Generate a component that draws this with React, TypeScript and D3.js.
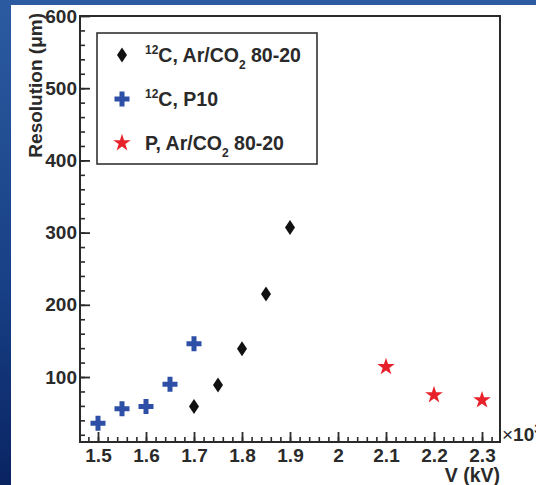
import React, { useEffect, useRef } from 'react';
import * as d3 from 'd3';

// 12C, Ar/CO2 80-20
const voltArCO2 = [1.7, 1.75, 1.8, 1.85, 1.9];
const resArCO2 = [59, 89, 139, 215, 307];
// 12C, P10
const voltP10 = [1.5, 1.55, 1.6, 1.65, 1.7];
const resP10 = [36, 56, 59, 90, 146];
// P, Ar/CO2 80-20
const voltProton = [2.1, 2.2, 2.3];
const resProton = [114, 75, 68];

const xMajorTicks = [1.5, 1.6, 1.7, 1.8, 1.9, 2.0, 2.1, 2.2, 2.3];
const yMajorTicks = [100, 200, 300, 400, 500, 600];

const W = 536;
const H = 485;
const FONT = '"Liberation Sans", Arial, Helvetica, sans-serif';

const App = () => {
  const svgRef = useRef<SVGSVGElement>(null);

  useEffect(() => {
    const svg = d3.select(svgRef.current);
    svg.selectAll('*').remove();

    const left = 80, right = 500, top = 16, bottom = 442;

    const x = d3.scaleLinear().domain([1.4625, 2.3375]).range([left, right]);
    const y = d3.scaleLinear().domain([10, 600]).range([bottom, top]);

    // slide background
    const defs = svg.append('defs');
    const grad = defs.append('linearGradient')
      .attr('id', 'bg').attr('x1', 0).attr('y1', 0).attr('x2', 0).attr('y2', 1);
    grad.append('stop').attr('offset', '0%').attr('stop-color', '#2c5ba1');
    grad.append('stop').attr('offset', '60%').attr('stop-color', '#173f85');
    grad.append('stop').attr('offset', '100%').attr('stop-color', '#0a2462');
    svg.append('rect').attr('width', W).attr('height', H).attr('fill', 'url(#bg)');
    svg.append('rect').attr('x', 11).attr('y', 5).attr('width', W - 11).attr('height', H - 5).attr('fill', '#fff');

    const ink = '#2a2a2a';

    // x axis: minor + major ticks pointing inward
    const xMinor = d3.range(1.48, 2.34, 0.02).map(v => +v.toFixed(2));
    svg.append('g')
      .attr('transform', `translate(0,${bottom})`)
      .call(d3.axisBottom(x).tickValues(xMinor).tickSize(-5).tickFormat(() => ''))
      .call(g => g.select('.domain').remove())
      .selectAll('line').attr('stroke', ink).attr('stroke-width', 1.6);

    const gx = svg.append('g')
      .attr('transform', `translate(0,${bottom})`)
      .call(d3.axisBottom(x).tickValues(xMajorTicks).tickSize(-10).tickPadding(7)
        .tickFormat(d => String(+(+d).toFixed(1))));
    gx.select('.domain').remove();
    gx.selectAll('line').attr('stroke', ink).attr('stroke-width', 1.8);
    gx.selectAll('text')
      .attr('font-family', FONT).attr('font-weight', 'bold').attr('font-size', 19)
      .attr('fill', ink).attr('dy', '0.71em');

    // y axis
    const yMinor = d3.range(20, 600, 20);
    svg.append('g')
      .attr('transform', `translate(${left},0)`)
      .call(d3.axisLeft(y).tickValues(yMinor).tickSize(-5).tickFormat(() => ''))
      .call(g => g.select('.domain').remove())
      .selectAll('line').attr('stroke', ink).attr('stroke-width', 1.6);

    const gy = svg.append('g')
      .attr('transform', `translate(${left},0)`)
      .call(d3.axisLeft(y).tickValues(yMajorTicks).tickSize(-10).tickPadding(3));
    gy.select('.domain').remove();
    gy.selectAll('line').attr('stroke', ink).attr('stroke-width', 1.8);
    gy.selectAll('text')
      .attr('font-family', FONT).attr('font-weight', 'bold').attr('font-size', 19)
      .attr('fill', ink);

    // frame
    svg.append('rect')
      .attr('x', left).attr('y', top)
      .attr('width', right - left).attr('height', bottom - top)
      .attr('fill', 'none').attr('stroke', ink).attr('stroke-width', 2);

    // axis titles
    svg.append('text')
      .attr('transform', `translate(42,${top - 3}) rotate(-90)`)
      .attr('text-anchor', 'end')
      .attr('font-family', FONT).attr('font-weight', 'bold').attr('font-size', 19)
      .attr('fill', ink)
      .text('Resolution (\u03bcm)');

    svg.append('text')
      .attr('x', right).attr('y', 482)
      .attr('text-anchor', 'end')
      .attr('font-family', FONT).attr('font-weight', 'bold').attr('font-size', 19.5)
      .attr('fill', ink)
      .text('V (kV)');

    const exp = svg.append('text')
      .attr('x', right + 2).attr('y', bottom - 1)
      .attr('font-family', FONT).attr('font-size', 19)
      .attr('fill', ink);
    exp.append('tspan').text('\u00d7');
    exp.append('tspan').attr('font-weight', 'bold').text('10');
    exp.append('tspan').attr('font-weight', 'bold').attr('font-size', 12).attr('dy', -8).text('3');

    // markers
    const diamondPath = 'M0,-7.5L5,0L0,7.5L-5,0Z';
    const crossPath = d3.symbol().type(d3.symbolCross).size(125)();
    const starPath = d3.symbol().type(d3.symbolStar).size(95)();
    const black = '#111111', blue = '#2e4fa6', red = '#e8222b';

    const series = [
      { xs: voltArCO2, ys: resArCO2, path: diamondPath, color: black },
      { xs: voltP10, ys: resP10, path: crossPath, color: blue },
      { xs: voltProton, ys: resProton, path: starPath, color: red },
    ];

    series.forEach(s => {
      svg.append('g').selectAll('path')
        .data(s.xs.map((v, i) => [v, s.ys[i]]))
        .enter().append('path')
        .attr('d', s.path)
        .attr('transform', d => `translate(${x(d[0])},${y(d[1])})`)
        .attr('fill', s.color);
    });

    // legend
    const lg = svg.append('g');
    lg.append('rect')
      .attr('x', 97).attr('y', 33).attr('width', 220).attr('height', 131)
      .attr('fill', '#fff').attr('stroke', '#333').attr('stroke-width', 1.6);

    const items = [
      { path: diamondPath, color: black, pre: '12', main: 'C, Ar/CO', sub: '2', post: ' 80-20' },
      { path: crossPath, color: blue, pre: '12', main: 'C, P10', sub: '', post: '' },
      { path: starPath, color: red, pre: '', main: 'P, Ar/CO', sub: '2', post: ' 80-20' },
    ];
    items.forEach((it, i) => {
      const cy = 55 + i * 44;
      lg.append('path').attr('d', it.path)
        .attr('transform', `translate(122,${cy})`).attr('fill', it.color);
      const t = lg.append('text')
        .attr('x', 145).attr('y', cy + 7)
        .attr('font-family', FONT).attr('font-weight', 'bold').attr('font-size', 19.5)
        .attr('fill', ink);
      if (it.pre) t.append('tspan').attr('font-size', 12).attr('dy', -8).text(it.pre);
      t.append('tspan').attr('dy', it.pre ? 8 : 0).text(it.main);
      if (it.sub) t.append('tspan').attr('font-size', 12).attr('dy', 7).text(it.sub);
      if (it.post) t.append('tspan').attr('dy', it.sub ? -7 : 0).text(it.post);
    });
  }, []);

  return (
    <svg
      ref={svgRef}
      width={W}
      height={H}
      style={{ position: 'absolute', left: 0, top: 0, display: 'block' }}
    />
  );
};

export default App;
